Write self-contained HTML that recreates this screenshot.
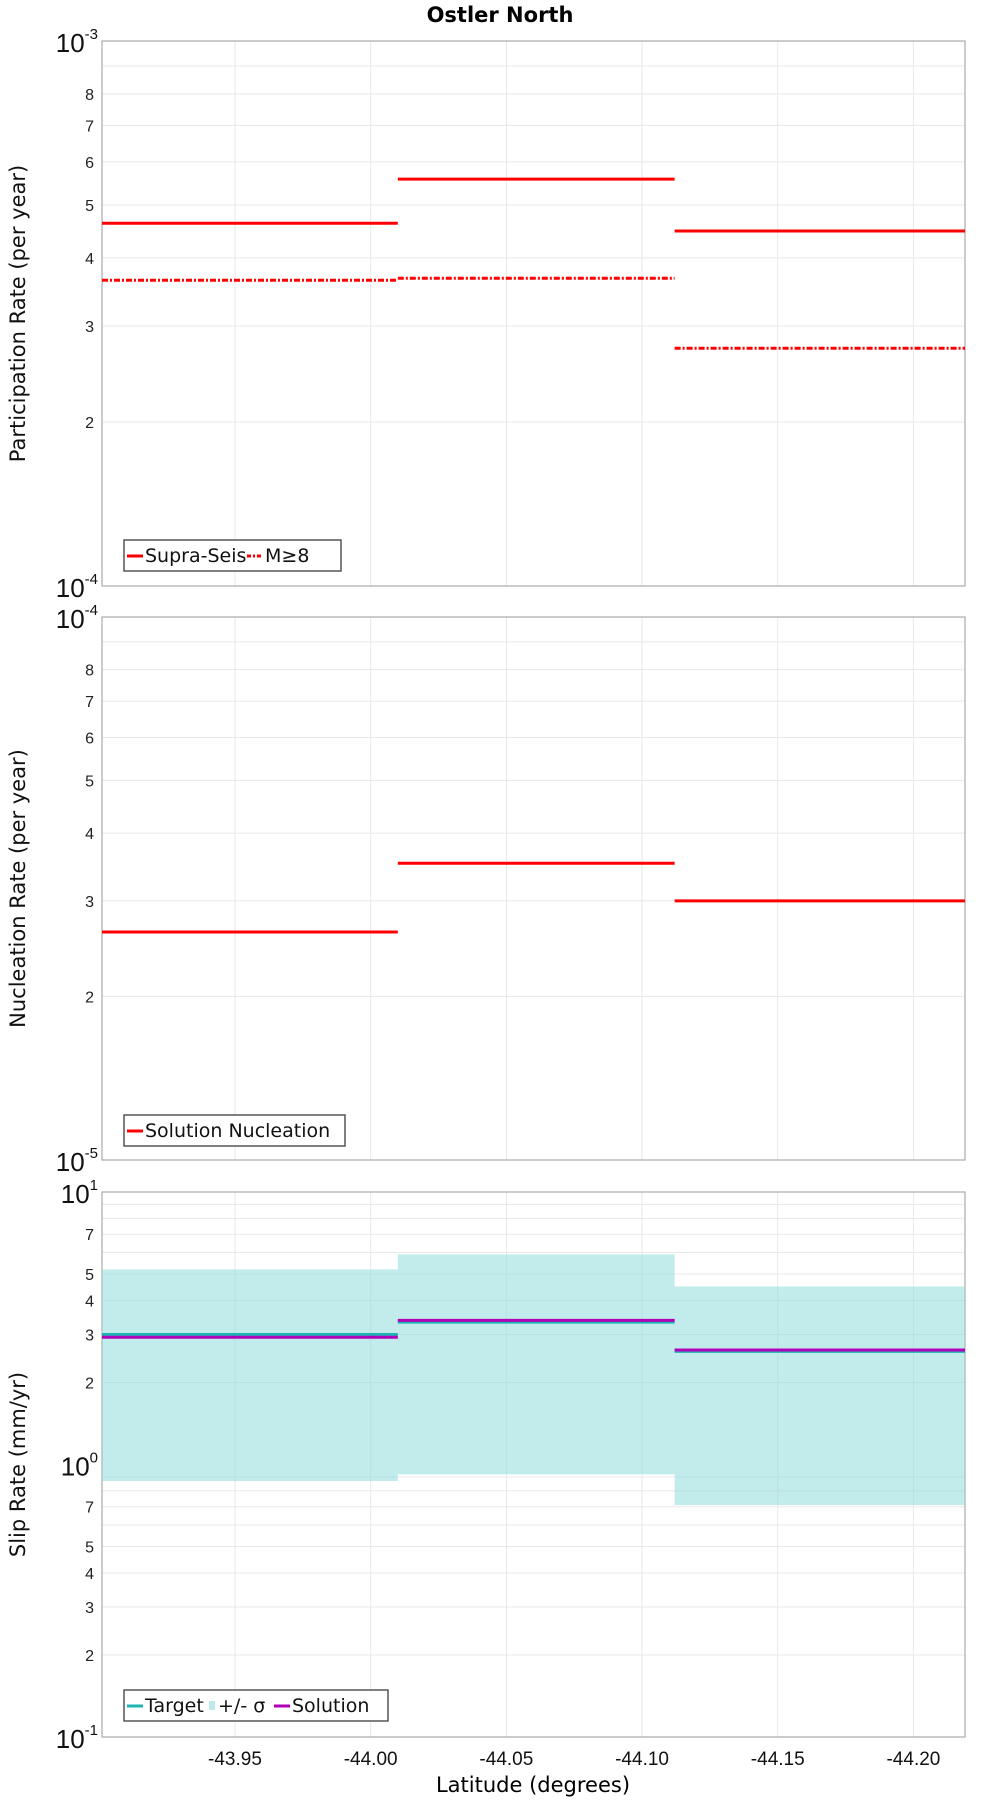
<!DOCTYPE html>
<html><head><meta charset="utf-8"><style>
html,body{margin:0;padding:0;background:#fff;}
svg{display:block;font-family:"DejaVu Sans","Liberation Sans",sans-serif;}
</style></head><body>
<svg id="chart" width="1000" height="1800" viewBox="0 0 1000 1800" xmlns="http://www.w3.org/2000/svg">
<text x="500" y="22" text-anchor="middle" font-size="21" font-weight="bold">Ostler North</text>
<text x="533" y="1792" text-anchor="middle" font-size="21">Latitude (degrees)</text>
</svg>
<script>
const segStart = [-43.901, -44.010, -44.112];
const segEnd = [-44.010, -44.112, -44.219];
const xTicks = [-43.95, -44.00, -44.05, -44.10, -44.15, -44.20];
const xTickLabels = ["-43.95", "-44.00", "-44.05", "-44.10", "-44.15", "-44.20"];
const supraSeis = [4.63e-4, 5.58e-4, 4.48e-4];
const mGe8 = [3.64e-4, 3.67e-4, 2.73e-4];
const nucleation = [2.63e-5, 3.52e-5, 3.0e-5];
const targetSlip = [3.0, 3.33, 2.6];
const solutionSlip = [2.93, 3.38, 2.63];
const sigmaLow = [0.87, 0.92, 0.71];
const sigmaHigh = [5.2, 5.9, 4.5];

const svg = document.getElementById('chart');
const NS = 'http://www.w3.org/2000/svg';
const X0 = 102, X1 = 965, LAT0 = -43.901, LAT1 = -44.219;
function xs(v){ return X0 + (v - LAT0) / (LAT1 - LAT0) * (X1 - X0); }
function mk(tag, attrs, parent){ const e = document.createElementNS(NS, tag); for (const k in attrs) e.setAttribute(k, attrs[k]); (parent||svg).appendChild(e); return e; }

const panels = [
 {name:'participation', top:41, bot:586, lo:-4, hi:-3, title:'Participation Rate (per year)', minorLabels:[2,3,4,5,6,7,8]},
 {name:'nucleation', top:617, bot:1160, lo:-5, hi:-4, title:'Nucleation Rate (per year)', minorLabels:[2,3,4,5,6,7,8]},
 {name:'slip', top:1192, bot:1737, lo:-1, hi:1, title:'Slip Rate (mm/yr)', minorLabels:[2,3,4,5,7]}
];
panels.forEach(p => {
  p.ys = v => p.bot - (Math.log10(v) - p.lo) / (p.hi - p.lo) * (p.bot - p.top);
  const g = mk('g', {});
  
  
  p.g = g;
  for (let d = p.lo; d < p.hi; d++) {
    for (let m = 2; m <= 9; m++) {
      const v = m * Math.pow(10, d);
      const y = p.ys(v);
      const gl = mk('line', {x1:X0, x2:X1, y1:y, y2:y, stroke:'#e8e8e8', 'stroke-width':1}, g);
      
      
      if (p.minorLabels.includes(m)) {
        const t = mk('text', {x:X0-8, y:y+6, 'text-anchor':'end', 'font-size':16, fill:'#222', 'font-family':'Liberation Sans, sans-serif'}, g);
        
        
        t.textContent = m;
      }
    }
  }
  for (let d = p.lo; d <= p.hi; d++) {
    const y = p.ys(Math.pow(10, d));
    const t = mk('text', {x:X0-4, y:y+11, 'text-anchor':'end', 'font-size':26, fill:'#111', 'font-family':'Liberation Sans, sans-serif'}, g);
    
    
    t.innerHTML = '10<tspan font-size="15" dy="-13">' + d + '</tspan>';
  }
  xTicks.forEach((v, i) => {
    const gl = mk('line', {x1:xs(v), x2:xs(v), y1:p.top, y2:p.bot, stroke:'#e8e8e8', 'stroke-width':1}, g);
    
    
  });
  const fr = mk('rect', {x:X0, y:p.top, width:X1-X0, height:p.bot-p.top, fill:'none', stroke:'#aaa', 'stroke-width':1.2}, g);
  
  
  const yt = mk('text', {x:0, y:0, transform:'translate(25,' + ((p.top+p.bot)/2) + ') rotate(-90)', 'text-anchor':'middle', 'font-size':21, fill:'#111'}, g);
  
  
  yt.textContent = p.title;
});

function seg(p, vals, color, name, dash){
  vals.forEach((v, i) => {
    const a = {x1:xs(segStart[i]), x2:xs(segEnd[i]), y1:p.ys(v), y2:p.ys(v), stroke:color, 'stroke-width':3};
    if (dash) a['stroke-dasharray'] = dash;
    const l = mk('line', a, p.g);
    
    
  });
}
seg(panels[0], supraSeis, '#ff0000', 'supra-seis-line');
seg(panels[0], mGe8, '#ff0000', 'm8-line', '6,2,2,2');
seg(panels[1], nucleation, '#ff0000', 'nucleation-line');
sigmaLow.forEach((v, i) => {
  const p = panels[2];
  const r = mk('rect', {x:xs(segStart[i]), y:p.ys(sigmaHigh[i]), width:xs(segEnd[i])-xs(segStart[i]), height:p.ys(v)-p.ys(sigmaHigh[i]), fill:'#8fdada', 'fill-opacity':0.55}, p.g);
  
  
});
seg(panels[2], targetSlip, '#1fb4b4', 'target-line');
seg(panels[2], solutionSlip, '#b000b8', 'solution-line');

xTicks.forEach((v, i) => {
  const t = mk('text', {x:xs(v), y:1765, 'text-anchor':'middle', 'font-size':19, fill:'#111', 'font-family':'Liberation Sans, sans-serif'});
  
  
  t.textContent = xTickLabels[i];
});

function legend(x, y, w, items, name){
  const g = mk('g', {});
  
  
  mk('rect', {x:x, y:y, width:w, height:31, fill:'#fff', stroke:'#555', 'stroke-width':1.5}, g);
  let cx = x + 3;
  items.forEach(it => {
    if (it.band) {
      mk('rect', {x:cx, y:y+11, width:6, height:9, fill:'#bfeaea'}, g);
      cx += 9;
    } else {
      const a = {x1:cx, x2:cx+16, y1:y+16, y2:y+16, stroke:it.color, 'stroke-width':3};
      if (it.dash) a['stroke-dasharray'] = it.dash;
      mk('line', a, g);
      cx += 18;
    }
    const t = mk('text', {x:cx, y:y+22, 'font-size':19, fill:'#111'}, g);
    
    
    t.textContent = it.label;
    cx += it.w;
  });
}
legend(124, 540, 217, [{color:'#ff0000', label:'Supra-Seis', w:102}, {color:'#ff0000', dash:'4,2,2,2', label:'M≥8', w:40}], 'legend-participation');
legend(124, 1115, 221, [{color:'#ff0000', label:'Solution Nucleation', w:190}], 'legend-nucleation');
legend(124, 1690, 264, [{color:'#1fb4b4', label:'Target', w:64}, {band:true, label:'+/- σ', w:56}, {color:'#b000b8', label:'Solution', w:80}], 'legend-slip');
</script>
</body></html>
